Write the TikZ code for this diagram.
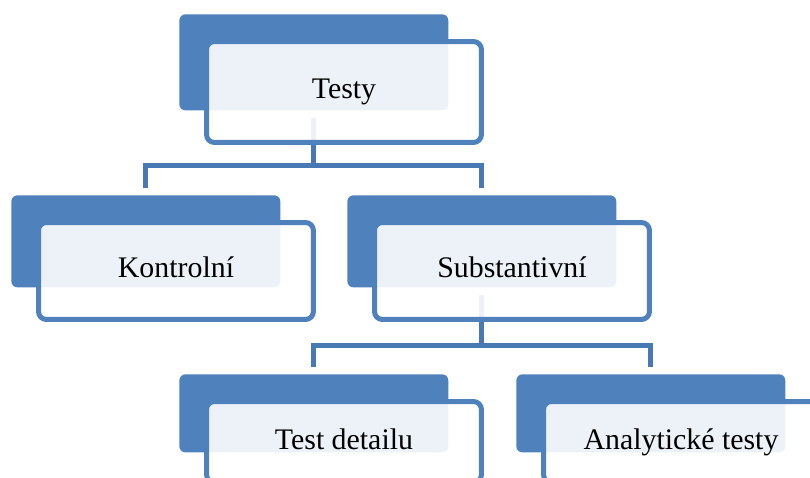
\documentclass[tikz,border=0pt]{standalone}
\usepackage{fontspec}
\setmainfont{Liberation Serif}
\definecolor{boxblue}{RGB}{79,129,189}
\definecolor{lineblue}{RGB}{72,121,180}
\tikzset{backbox/.style={rectangle,anchor=north west,inner sep=0pt,rounded corners=0.12cm,
    fill=boxblue,minimum width=5.38cm,minimum height=#1},
  frontbox/.style={rectangle,anchor=north west,inner sep=0pt,rounded corners=0.16cm,
    draw=boxblue,line width=0.1cm,fill=white,fill opacity=0.9,text opacity=1,
    minimum width=5.5cm,minimum height=#1,text height=0.4cm,text depth=0.12cm,
    font=\fontsize{17}{20}\selectfont},
  link/.style={draw=lineblue,line width=0.1cm}}

\begin{document}
\begin{tikzpicture}[x=0.02cm,y=-0.02cm]
    \useasboundingbox (0,0) rectangle (810,477);
    \clip (0,0) rectangle (810,477);
    \node[backbox=1.92cm] (tb) at (179,14) {};
    \node[backbox=1.84cm] (kb) at (11,195) {};
    \node[backbox=1.84cm] (sb) at (347,195) {};
    \node[backbox=1.56cm] (db) at (179,374) {};
    \node[backbox=1.56cm] (ab) at (516,374) {};
    \draw[link] ([shift={(0,7)}]tb.south) -- ++(0,48) -| ([shift={(0,-7)}]kb.north);
    \draw[link] ([shift={(0,7)}]tb.south) -- ++(0,48) -| ([shift={(0,-7)}]sb.north);
    \draw[link] ([shift={(0,7)}]sb.south) -- ++(0,51) -| ([shift={(0,-7)}]db.north);
    \draw[link] ([shift={(0,7)}]sb.south) -- ++(0,51) -| ([shift={(0,-7)}]ab.north);
    \node[frontbox=2.02cm] (tf) at ([shift={(25,25)}]tb.north west) {Testy};
    \node[frontbox=1.94cm] (kf) at ([shift={(25,25)}]kb.north west) {Kontrolní};
    \node[frontbox=1.94cm] (sf) at ([shift={(25,25)}]sb.north west) {Substantivní};
    \node[frontbox=1.62cm] (df) at ([shift={(25,25)}]db.north west) {Test detailu};
    \node[frontbox=1.62cm] (af) at ([shift={(25,25)}]ab.north west) {Analytické testy};
\end{tikzpicture}
\end{document}
